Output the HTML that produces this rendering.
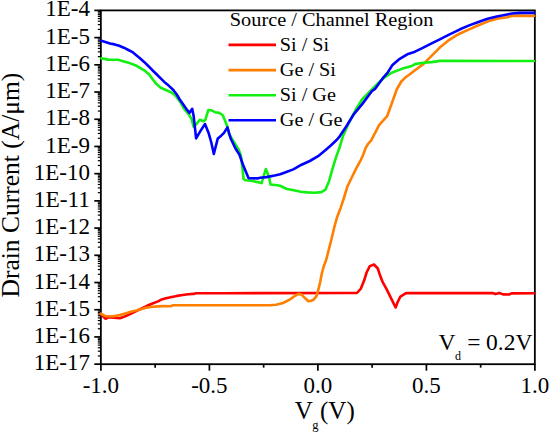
<!DOCTYPE html>
<html><head><meta charset="utf-8"><style>
html,body{margin:0;padding:0;background:#fff;}
svg{display:block;}
text{font-family:"Liberation Serif",serif;fill:#000;}
.ax line{stroke:#000;stroke-width:1.7;}
.ax line.mn{stroke-width:1.2;}
.c{fill:none;stroke-width:2.6;stroke-linejoin:round;stroke-linecap:round;}
</style></head><body>
<svg width="550" height="435" viewBox="0 0 550 435">
<rect width="550" height="435" fill="#fff"/>

<rect x="100.85" y="10.4" width="434.0" height="353.8" fill="none" stroke="#000" stroke-width="1.8"/>
<g class="ax">
<line x1="94.3" y1="10.40" x2="100.8" y2="10.40"/><line x1="97.8" y1="29.42" x2="100.8" y2="29.42" class="mn"/><line x1="97.8" y1="24.63" x2="100.8" y2="24.63" class="mn"/><line x1="97.8" y1="21.23" x2="100.8" y2="21.23" class="mn"/><line x1="97.8" y1="18.59" x2="100.8" y2="18.59" class="mn"/><line x1="97.8" y1="16.44" x2="100.8" y2="16.44" class="mn"/><line x1="97.8" y1="14.62" x2="100.8" y2="14.62" class="mn"/><line x1="97.8" y1="13.04" x2="100.8" y2="13.04" class="mn"/><line x1="97.8" y1="11.65" x2="100.8" y2="11.65" class="mn"/><line x1="94.3" y1="37.61" x2="100.8" y2="37.61"/><line x1="97.8" y1="56.63" x2="100.8" y2="56.63" class="mn"/><line x1="97.8" y1="51.84" x2="100.8" y2="51.84" class="mn"/><line x1="97.8" y1="48.44" x2="100.8" y2="48.44" class="mn"/><line x1="97.8" y1="45.80" x2="100.8" y2="45.80" class="mn"/><line x1="97.8" y1="43.65" x2="100.8" y2="43.65" class="mn"/><line x1="97.8" y1="41.83" x2="100.8" y2="41.83" class="mn"/><line x1="97.8" y1="40.25" x2="100.8" y2="40.25" class="mn"/><line x1="97.8" y1="38.86" x2="100.8" y2="38.86" class="mn"/><line x1="94.3" y1="64.82" x2="100.8" y2="64.82"/><line x1="97.8" y1="83.84" x2="100.8" y2="83.84" class="mn"/><line x1="97.8" y1="79.05" x2="100.8" y2="79.05" class="mn"/><line x1="97.8" y1="75.65" x2="100.8" y2="75.65" class="mn"/><line x1="97.8" y1="73.01" x2="100.8" y2="73.01" class="mn"/><line x1="97.8" y1="70.86" x2="100.8" y2="70.86" class="mn"/><line x1="97.8" y1="69.04" x2="100.8" y2="69.04" class="mn"/><line x1="97.8" y1="67.46" x2="100.8" y2="67.46" class="mn"/><line x1="97.8" y1="66.07" x2="100.8" y2="66.07" class="mn"/><line x1="94.3" y1="92.03" x2="100.8" y2="92.03"/><line x1="97.8" y1="111.05" x2="100.8" y2="111.05" class="mn"/><line x1="97.8" y1="106.26" x2="100.8" y2="106.26" class="mn"/><line x1="97.8" y1="102.86" x2="100.8" y2="102.86" class="mn"/><line x1="97.8" y1="100.23" x2="100.8" y2="100.23" class="mn"/><line x1="97.8" y1="98.07" x2="100.8" y2="98.07" class="mn"/><line x1="97.8" y1="96.25" x2="100.8" y2="96.25" class="mn"/><line x1="97.8" y1="94.67" x2="100.8" y2="94.67" class="mn"/><line x1="97.8" y1="93.28" x2="100.8" y2="93.28" class="mn"/><line x1="94.3" y1="119.25" x2="100.8" y2="119.25"/><line x1="97.8" y1="138.27" x2="100.8" y2="138.27" class="mn"/><line x1="97.8" y1="133.47" x2="100.8" y2="133.47" class="mn"/><line x1="97.8" y1="130.07" x2="100.8" y2="130.07" class="mn"/><line x1="97.8" y1="127.44" x2="100.8" y2="127.44" class="mn"/><line x1="97.8" y1="125.28" x2="100.8" y2="125.28" class="mn"/><line x1="97.8" y1="123.46" x2="100.8" y2="123.46" class="mn"/><line x1="97.8" y1="121.88" x2="100.8" y2="121.88" class="mn"/><line x1="97.8" y1="120.49" x2="100.8" y2="120.49" class="mn"/><line x1="94.3" y1="146.46" x2="100.8" y2="146.46"/><line x1="97.8" y1="165.48" x2="100.8" y2="165.48" class="mn"/><line x1="97.8" y1="160.69" x2="100.8" y2="160.69" class="mn"/><line x1="97.8" y1="157.29" x2="100.8" y2="157.29" class="mn"/><line x1="97.8" y1="154.65" x2="100.8" y2="154.65" class="mn"/><line x1="97.8" y1="152.49" x2="100.8" y2="152.49" class="mn"/><line x1="97.8" y1="150.67" x2="100.8" y2="150.67" class="mn"/><line x1="97.8" y1="149.09" x2="100.8" y2="149.09" class="mn"/><line x1="97.8" y1="147.70" x2="100.8" y2="147.70" class="mn"/><line x1="94.3" y1="173.67" x2="100.8" y2="173.67"/><line x1="97.8" y1="192.69" x2="100.8" y2="192.69" class="mn"/><line x1="97.8" y1="187.90" x2="100.8" y2="187.90" class="mn"/><line x1="97.8" y1="184.50" x2="100.8" y2="184.50" class="mn"/><line x1="97.8" y1="181.86" x2="100.8" y2="181.86" class="mn"/><line x1="97.8" y1="179.71" x2="100.8" y2="179.71" class="mn"/><line x1="97.8" y1="177.88" x2="100.8" y2="177.88" class="mn"/><line x1="97.8" y1="176.31" x2="100.8" y2="176.31" class="mn"/><line x1="97.8" y1="174.91" x2="100.8" y2="174.91" class="mn"/><line x1="94.3" y1="200.88" x2="100.8" y2="200.88"/><line x1="97.8" y1="219.90" x2="100.8" y2="219.90" class="mn"/><line x1="97.8" y1="215.11" x2="100.8" y2="215.11" class="mn"/><line x1="97.8" y1="211.71" x2="100.8" y2="211.71" class="mn"/><line x1="97.8" y1="209.07" x2="100.8" y2="209.07" class="mn"/><line x1="97.8" y1="206.92" x2="100.8" y2="206.92" class="mn"/><line x1="97.8" y1="205.10" x2="100.8" y2="205.10" class="mn"/><line x1="97.8" y1="203.52" x2="100.8" y2="203.52" class="mn"/><line x1="97.8" y1="202.13" x2="100.8" y2="202.13" class="mn"/><line x1="94.3" y1="228.09" x2="100.8" y2="228.09"/><line x1="97.8" y1="247.11" x2="100.8" y2="247.11" class="mn"/><line x1="97.8" y1="242.32" x2="100.8" y2="242.32" class="mn"/><line x1="97.8" y1="238.92" x2="100.8" y2="238.92" class="mn"/><line x1="97.8" y1="236.28" x2="100.8" y2="236.28" class="mn"/><line x1="97.8" y1="234.13" x2="100.8" y2="234.13" class="mn"/><line x1="97.8" y1="232.31" x2="100.8" y2="232.31" class="mn"/><line x1="97.8" y1="230.73" x2="100.8" y2="230.73" class="mn"/><line x1="97.8" y1="229.34" x2="100.8" y2="229.34" class="mn"/><line x1="94.3" y1="255.30" x2="100.8" y2="255.30"/><line x1="97.8" y1="274.32" x2="100.8" y2="274.32" class="mn"/><line x1="97.8" y1="269.53" x2="100.8" y2="269.53" class="mn"/><line x1="97.8" y1="266.13" x2="100.8" y2="266.13" class="mn"/><line x1="97.8" y1="263.50" x2="100.8" y2="263.50" class="mn"/><line x1="97.8" y1="261.34" x2="100.8" y2="261.34" class="mn"/><line x1="97.8" y1="259.52" x2="100.8" y2="259.52" class="mn"/><line x1="97.8" y1="257.94" x2="100.8" y2="257.94" class="mn"/><line x1="97.8" y1="256.55" x2="100.8" y2="256.55" class="mn"/><line x1="94.3" y1="282.52" x2="100.8" y2="282.52"/><line x1="97.8" y1="301.54" x2="100.8" y2="301.54" class="mn"/><line x1="97.8" y1="296.74" x2="100.8" y2="296.74" class="mn"/><line x1="97.8" y1="293.34" x2="100.8" y2="293.34" class="mn"/><line x1="97.8" y1="290.71" x2="100.8" y2="290.71" class="mn"/><line x1="97.8" y1="288.55" x2="100.8" y2="288.55" class="mn"/><line x1="97.8" y1="286.73" x2="100.8" y2="286.73" class="mn"/><line x1="97.8" y1="285.15" x2="100.8" y2="285.15" class="mn"/><line x1="97.8" y1="283.76" x2="100.8" y2="283.76" class="mn"/><line x1="94.3" y1="309.73" x2="100.8" y2="309.73"/><line x1="97.8" y1="328.75" x2="100.8" y2="328.75" class="mn"/><line x1="97.8" y1="323.96" x2="100.8" y2="323.96" class="mn"/><line x1="97.8" y1="320.56" x2="100.8" y2="320.56" class="mn"/><line x1="97.8" y1="317.92" x2="100.8" y2="317.92" class="mn"/><line x1="97.8" y1="315.76" x2="100.8" y2="315.76" class="mn"/><line x1="97.8" y1="313.94" x2="100.8" y2="313.94" class="mn"/><line x1="97.8" y1="312.36" x2="100.8" y2="312.36" class="mn"/><line x1="97.8" y1="310.97" x2="100.8" y2="310.97" class="mn"/><line x1="94.3" y1="336.94" x2="100.8" y2="336.94"/><line x1="97.8" y1="355.96" x2="100.8" y2="355.96" class="mn"/><line x1="97.8" y1="351.17" x2="100.8" y2="351.17" class="mn"/><line x1="97.8" y1="347.77" x2="100.8" y2="347.77" class="mn"/><line x1="97.8" y1="345.13" x2="100.8" y2="345.13" class="mn"/><line x1="97.8" y1="342.98" x2="100.8" y2="342.98" class="mn"/><line x1="97.8" y1="341.15" x2="100.8" y2="341.15" class="mn"/><line x1="97.8" y1="339.58" x2="100.8" y2="339.58" class="mn"/><line x1="97.8" y1="338.18" x2="100.8" y2="338.18" class="mn"/><line x1="94.3" y1="364.15" x2="100.8" y2="364.15"/><line x1="100.90" y1="364.15" x2="100.90" y2="370.65"/><line x1="155.15" y1="364.15" x2="155.15" y2="367.65"/><line x1="209.40" y1="364.15" x2="209.40" y2="370.65"/><line x1="263.65" y1="364.15" x2="263.65" y2="367.65"/><line x1="317.90" y1="364.15" x2="317.90" y2="370.65"/><line x1="372.15" y1="364.15" x2="372.15" y2="367.65"/><line x1="426.40" y1="364.15" x2="426.40" y2="370.65"/><line x1="480.65" y1="364.15" x2="480.65" y2="367.65"/><line x1="534.90" y1="364.15" x2="534.90" y2="370.65"/>
</g>
<g class="curves">
<path class="c" d="M100.8,314.2 L103.7,317.1 L105.6,318.8 L108.9,317.2 L114.4,317.8 L119.8,318.3 L125.3,316.2 L130.7,313.9 L136.2,311.2 L141.6,308.5 L147.1,305.8 L152.5,303.5 L158.0,301.4 L160.9,299.8 L166.0,298.3 L171.8,297.0 L177.0,295.9 L182.7,295.0 L188.2,294.3 L193.6,293.9 L195.8,293.3 L226.0,293.2 L356.9,293.0 L360.9,288.6 L364.1,280.6 L366.6,272.5 L369.8,266.1 L374.0,264.5 L377.8,268.5 L380.2,275.8 L382.7,282.2 L386.7,289.4 L391.5,299.1 L395.6,307.5 L397.9,301.5 L400.4,296.7 L406.0,293.1 L492.5,293.1 L495.5,294.1 L499.3,292.9 L503.0,294.4 L509.0,294.5 L511.5,293.4 L534.0,293.3" stroke="#ff0000"/>
<path class="c" d="M100.8,313.7 L103.5,315.2 L105.6,316.0 L108.9,316.3 L114.4,316.1 L119.8,315.1 L125.3,313.5 L130.7,311.8 L136.2,310.6 L141.6,309.1 L147.1,307.5 L152.5,306.7 L158.0,306.4 L164.0,306.1 L170.7,306.2 L172.9,305.3 L270.0,305.2 L276.0,304.8 L283.1,303.0 L289.6,299.6 L295.1,295.8 L298.9,293.6 L301.6,294.7 L305.2,298.3 L308.4,301.2 L311.0,300.8 L313.6,299.7 L316.4,296.4 L318.0,290.9 L320.2,282.0 L321.8,273.5 L324.0,265.5 L326.0,260.5 L329.1,248.5 L332.0,237.0 L334.3,227.2 L337.0,217.5 L340.7,207.7 L343.6,199.0 L347.4,186.5 L352.1,176.7 L356.1,168.6 L360.9,159.8 L363.3,154.5 L365.7,147.8 L368.0,144.0 L371.2,140.3 L379.1,125.1 L387.1,116.2 L392.1,102.5 L396.7,89.5 L401.3,81.5 L405.0,77.8 L410.5,73.8 L415.0,70.3 L423.3,64.1 L431.6,55.9 L439.8,47.6 L448.1,40.7 L456.4,35.4 L460.0,33.5 L469.2,29.4 L478.4,25.2 L487.6,21.6 L496.8,18.8 L507.2,17.2 L511.8,15.9 L520.0,15.6 L534.0,15.9" stroke="#ff7f00"/>
<path class="c" d="M101.4,58.4 L108.3,59.6 L117.9,59.8 L127.6,62.4 L135.9,65.5 L140.0,67.8 L144.6,70.6 L149.2,74.6 L152.6,79.2 L156.1,83.6 L160.7,87.8 L166.4,90.3 L171.0,92.2 L174.5,94.8 L176.5,97.0 L178.8,100.0 L181.6,104.1 L183.6,108.2 L188.8,114.3 L191.6,119.1 L193.6,126.7 L196.4,124.0 L199.8,119.8 L204.0,121.2 L205.3,119.8 L208.3,110.1 L210.9,110.2 L215.0,112.2 L219.1,112.9 L222.6,115.0 L224.7,119.8 L227.4,126.7 L229.1,134.1 L234.7,143.1 L238.8,150.0 L240.9,155.5 L242.2,165.9 L243.6,179.0 L245.7,180.3 L252.6,181.0 L261.6,183.1 L265.8,169.0 L269.1,176.9 L270.5,184.5 L277.4,185.2 L280.0,185.8 L286.9,189.0 L293.8,190.3 L300.7,191.7 L307.6,192.4 L314.5,192.8 L321.4,192.1 L325.5,189.7 L326.4,187.6 L329.1,180.9 L332.6,168.4 L336.0,157.4 L339.5,147.8 L342.9,136.3 L349.3,121.8 L355.7,109.8 L362.2,99.3 L367.0,94.5 L373.5,88.0 L375.0,86.1 L384.2,77.8 L391.6,72.7 L402.6,68.6 L411.8,65.9 L415.0,64.1 L423.3,62.8 L431.6,62.1 L439.8,60.9 L534.0,61.0" stroke="#11f011"/>
<path class="c" d="M101.4,40.8 L110.0,43.5 L114.6,44.4 L119.2,45.8 L123.8,47.7 L128.4,50.0 L132.1,51.8 L135.7,54.8 L139.4,57.8 L144.1,61.9 L148.3,66.0 L152.4,70.2 L156.6,74.3 L160.7,78.4 L165.5,83.1 L168.7,85.6 L173.3,90.0 L176.8,94.5 L179.7,99.5 L183.1,104.3 L186.6,109.2 L189.5,112.9 L192.2,108.8 L193.6,115.7 L196.1,138.4 L200.5,130.9 L205.0,124.0 L208.8,133.6 L211.3,142.5 L213.8,154.0 L217.8,138.4 L221.2,135.7 L224.0,132.9 L227.4,127.4 L230.8,138.8 L235.5,148.5 L239.5,154.8 L242.9,164.5 L248.6,178.2 L257.5,178.4 L260.0,177.8 L266.4,177.1 L274.7,175.5 L280.2,174.3 L287.0,171.8 L293.3,169.4 L301.6,164.7 L309.8,161.0 L318.1,156.2 L325.0,150.6 L330.5,145.8 L336.6,140.0 L339.7,136.3 L346.1,126.7 L354.1,113.8 L362.2,104.1 L371.8,91.3 L375.0,88.9 L382.4,78.7 L387.9,72.3 L392.5,64.9 L398.9,59.4 L408.1,53.9 L415.0,51.7 L423.3,47.6 L431.6,43.4 L439.8,39.3 L448.1,35.2 L456.4,31.2 L460.0,29.3 L469.2,25.4 L478.4,22.0 L487.6,18.8 L496.8,16.5 L507.2,14.4 L511.8,13.5 L520.0,12.9 L534.0,12.9" stroke="#0000ff"/>
</g>
<g font-size="24">
<text x="45.29" y="16.4" textLength="44.709" lengthAdjust="spacingAndGlyphs">1E-4</text><text x="45.29" y="43.6" textLength="44.709" lengthAdjust="spacingAndGlyphs">1E-5</text><text x="45.29" y="70.8" textLength="44.709" lengthAdjust="spacingAndGlyphs">1E-6</text><text x="45.29" y="98.0" textLength="44.709" lengthAdjust="spacingAndGlyphs">1E-7</text><text x="45.29" y="125.2" textLength="44.709" lengthAdjust="spacingAndGlyphs">1E-8</text><text x="45.29" y="152.5" textLength="44.709" lengthAdjust="spacingAndGlyphs">1E-9</text><text x="33.79" y="179.7" textLength="56.209" lengthAdjust="spacingAndGlyphs">1E-10</text><text x="33.79" y="206.9" textLength="56.209" lengthAdjust="spacingAndGlyphs">1E-11</text><text x="33.79" y="234.1" textLength="56.209" lengthAdjust="spacingAndGlyphs">1E-12</text><text x="33.79" y="261.3" textLength="56.209" lengthAdjust="spacingAndGlyphs">1E-13</text><text x="33.79" y="288.5" textLength="56.209" lengthAdjust="spacingAndGlyphs">1E-14</text><text x="33.79" y="315.7" textLength="56.209" lengthAdjust="spacingAndGlyphs">1E-15</text><text x="33.79" y="342.9" textLength="56.209" lengthAdjust="spacingAndGlyphs">1E-16</text><text x="33.79" y="370.1" textLength="56.209" lengthAdjust="spacingAndGlyphs">1E-17</text>
<text x="82.70" y="393" textLength="36.409" lengthAdjust="spacingAndGlyphs">-1.0</text><text x="191.20" y="393" textLength="36.409" lengthAdjust="spacingAndGlyphs">-0.5</text><text x="303.52" y="393" textLength="28.75" lengthAdjust="spacingAndGlyphs">0.0</text><text x="412.02" y="393" textLength="28.75" lengthAdjust="spacingAndGlyphs">0.5</text><text x="520.52" y="393" textLength="28.75" lengthAdjust="spacingAndGlyphs">1.0</text>
</g>
<text x="0" y="0" font-size="25.5" text-anchor="middle" transform="translate(19.3,185.1) rotate(-90)">Drain Current (A/&#956;m)</text>
<text x="294.8" y="419.3" font-size="25">V<tspan font-size="12.5" x="312.3" dy="10">g</tspan><tspan x="320" dy="-10">(V)</tspan></text>
<text x="438.5" y="349.5" font-size="23.5">V<tspan font-size="12" x="455" dy="10.6">d</tspan><tspan x="467.3" dy="-10.6">=</tspan><tspan x="486">0.2V</tspan></text>
<g font-size="19.5">
<text x="229.8" y="25.5" font-size="19" textLength="203.6" lengthAdjust="spacingAndGlyphs">Source / Channel Region</text>
<text x="279.8" y="51" textLength="49.4" lengthAdjust="spacingAndGlyphs">Si / Si</text>
<text x="279.8" y="76" textLength="56.1" lengthAdjust="spacingAndGlyphs">Ge / Si</text>
<text x="279.8" y="101" textLength="56.1" lengthAdjust="spacingAndGlyphs">Si / Ge</text>
<text x="279.8" y="125.6" textLength="62.8" lengthAdjust="spacingAndGlyphs">Ge / Ge</text>
</g>
<g class="c">
<line x1="228.5" y1="44.9" x2="276" y2="44.9" stroke="#ff0000" stroke-linecap="butt"/>
<line x1="228.5" y1="70.1" x2="276" y2="70.1" stroke="#ff7f00" stroke-linecap="butt"/>
<line x1="228.5" y1="95.2" x2="276" y2="95.2" stroke="#11f011" stroke-linecap="butt"/>
<line x1="228.5" y1="120.3" x2="276" y2="120.3" stroke="#0000ff" stroke-linecap="butt"/>
</g>
</svg>
</body></html>
